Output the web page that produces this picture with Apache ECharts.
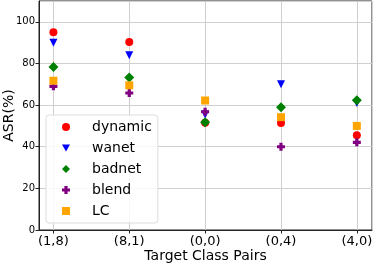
<!DOCTYPE html>
<html><head><meta charset="utf-8">
<script src="https://cdn.jsdelivr.net/npm/echarts@6/dist/echarts.min.js"></script>
<style>html,body{margin:0;padding:0;background:#fff}#c{width:374px;height:266px}</style>
</head><body><div id="c"></div>
<script>
var categories = ['(1,8)', '(8,1)', '(0,0)', '(0,4)', '(4,0)'];
var dynamic = [95, 90.3, 51.5, 51.4, 45.5];
var wanet   = [90, 84, 55.5, 70, 61];
var badnet  = [78.3, 73.3, 51.8, 59, 62.3];
var blend   = [69, 65.8, 56.8, 40, 42.1];
var LC      = [71.7, 69.5, 62.2, 54.2, 50];
var yTicks  = [0, 20, 40, 60, 80, 100];

var FONT = 'DejaVu Sans';
var triDown = 'path://M0,0L10,0L5,9Z';
var plus = 'path://M3,0H7V3H10V7H7V10H3V7H0V3H3Z';

function pts(arr){ return arr.map(function(v,i){ return [i, v]; }); }

var seriesDefs = [
  {name:'dynamic', data:dynamic, symbol:'circle', color:'#ff0000', size:8},
  {name:'wanet', data:wanet, symbol:triDown, color:'#0000ff', size:8},
  {name:'badnet', data:badnet, symbol:'diamond', color:'#008000', size:10},
  {name:'blend', data:blend, symbol:plus, color:'#800080', size:8},
  {name:'LC', data:LC, symbol:'rect', color:'#ffa500', size:8}
];

var chart = echarts.init(document.getElementById('c'), null, {renderer:'canvas'});
chart.setOption({
  animation:false,
  grid:{left:39, right:2, top:1, bottom:36, show:true, borderColor:'#222', borderWidth:1, containLabel:false, outerBoundsMode:'none'},
  xAxis:{
    type:'value', min:-0.19, max:4.2, splitNumber:5,
    name:'Target Class Pairs', nameLocation:'middle', nameGap:19, nameMoveOverlap:false,
    nameTextStyle:{fontFamily:FONT, fontSize:14, color:'#000', verticalAlign:'top'},
    axisLine:{show:true, onZero:false, lineStyle:{color:'#222'}},
    axisTick:{show:true, length:3.5, lineStyle:{color:'#222'}},
    axisLabel:{fontFamily:FONT, fontSize:13, color:'#000', margin:5, showMinLabel:false, showMaxLabel:false,
      formatter:function(v){ var i=Math.round(v); return (Math.abs(v-i)<1e-6 && categories[i]!==undefined)?categories[i]:''; }},
    splitLine:{show:true, lineStyle:{color:'#cfcfcf', width:1}}
  },
  yAxis:{
    type:'value', min:0, max:110, splitNumber:5,
    name:'ASR(%)', nameLocation:'middle', nameGap:23, nameMoveOverlap:false,
    nameTextStyle:{fontFamily:FONT, fontSize:14, color:'#000'},
    axisLine:{show:true, onZero:false, lineStyle:{color:'#222'}},
    axisTick:{show:true, length:3.5, lineStyle:{color:'#222'}},
    axisLabel:{fontFamily:FONT, fontSize:10, color:'#000', margin:4, showMaxLabel:false,
      formatter:function(v){ return yTicks.indexOf(v)>=0 ? String(v) : ''; }},
    splitLine:{show:true, lineStyle:{color:'#cfcfcf', width:1}}
  },
  legend:{
    orient:'vertical', left:46, top:115,
    padding:[4,6,4,16], itemGap:5, itemWidth:8, itemHeight:8,
    backgroundColor:'rgba(255,255,255,0.85)', borderColor:'#dddddd', borderWidth:1, borderRadius:3,
    textStyle:{fontFamily:FONT, fontSize:14, color:'#000', lineHeight:16, padding:[0,0,0,17]},
    data:seriesDefs.map(function(s){ return {name:s.name, icon:s.symbol}; })
  },
  series:seriesDefs.map(function(s){
    return {type:'scatter', name:s.name, data:pts(s.data), symbol:s.symbol, symbolSize:s.size,
      itemStyle:{color:s.color, opacity:1}};
  })
});
</script></body></html>
